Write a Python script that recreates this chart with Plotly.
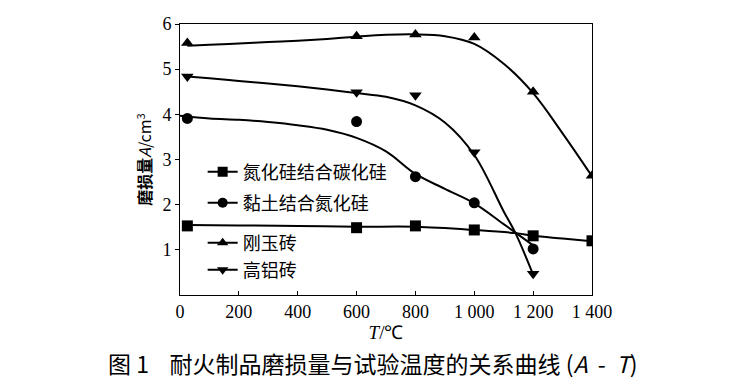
import plotly.graph_objects as go

# ---- data ----
x_ticks = [0, 200, 400, 600, 800, 1000, 1200, 1400]
x_ticktext = ["0", "200", "400", "600", "800", "1 000", "1 200", "1 400"]
y_ticks = [1, 2, 3, 4, 5, 6]

names = ["氮化硅结合碳化硅", "黏土结合氮化硅", "刚玉砖", "高铝砖"]

# measured points
sq_x = [25, 600, 800, 1000, 1200, 1400]
sq_y = [1.53, 1.49, 1.53, 1.44, 1.31, 1.20]
ci_x = [25, 600, 800, 1000, 1200]
ci_y = [3.91, 3.84, 2.62, 2.04, 1.02]
tu_x = [25, 600, 800, 1000, 1200, 1400]
tu_y = [5.58, 5.73, 5.77, 5.70, 4.50, 2.64]
td_x = [25, 600, 800, 1000, 1200]
td_y = [4.84, 4.49, 4.42, 3.16, 0.47]

# fitted curves
sq_fx = [25, 200, 400, 600, 800, 1000, 1140, 1200, 1300, 1400]
sq_fy = [1.55, 1.54, 1.53, 1.51, 1.51, 1.44, 1.37, 1.31, 1.25, 1.19]
ci_fx = [0, 100, 200, 300, 400, 500, 600, 700, 800, 900, 1000, 1100, 1200]
ci_fy = [3.97, 3.91, 3.88, 3.83, 3.76, 3.66, 3.48, 3.18, 2.68, 2.35, 2.03, 1.57, 1.10]
tu_fx = [25, 100, 200, 300, 400, 500, 600, 700, 800, 900, 1000, 1100, 1200, 1300, 1400]
tu_fy = [5.52, 5.54, 5.57, 5.60, 5.63, 5.67, 5.72, 5.76, 5.77, 5.73, 5.56, 5.12, 4.47, 3.58, 2.63]
td_fx = [25, 100, 200, 300, 400, 500, 600, 700, 800, 900, 1000, 1100, 1140, 1200]
td_fy = [4.84, 4.80, 4.74, 4.68, 4.62, 4.55, 4.47, 4.39, 4.20, 3.82, 3.10, 1.85, 1.37, 0.45]

symbols = ["square", "circle", "triangle-up", "triangle-down"]
pts = [(sq_x, sq_y), (ci_x, ci_y), (tu_x, tu_y), (td_x, td_y)]
fits = [(sq_fx, sq_fy), (ci_fx, ci_fy), (tu_fx, tu_fy), (td_fx, td_fy)]
legend_ids = ["legend", "legend2", "legend3", "legend4"]
legend_y = [0.454, 0.339, 0.192, 0.092]

SERIF = "Liberation Serif"
CJK = "Noto Sans CJK SC"

fig = go.Figure()
for (fx, fy) in fits:
    fig.add_trace(go.Scatter(x=fx, y=fy, mode="lines", line=dict(color="black", width=2,
                             shape="spline", smoothing=1.0), showlegend=False, hoverinfo="skip"))
for (px, py), sym in zip(pts, symbols):
    fig.add_trace(go.Scatter(x=px, y=py, mode="markers",
                             marker=dict(symbol=sym, size=11, color="black"), showlegend=False))
for name, sym, lid in zip(names, symbols, legend_ids):
    fig.add_trace(go.Scatter(x=[None], y=[None], mode="lines+markers", name=name, legend=lid,
                             line=dict(color="black", width=2),
                             marker=dict(symbol=sym, size=10, color="black")))

fig.update_xaxes(range=[0, 1400], tickvals=x_ticks, ticktext=x_ticktext,
                 showline=True, linecolor="black", linewidth=1, mirror=True,
                 showgrid=False, zeroline=False, ticks="inside", ticklen=4, tickcolor="black",
                 tickfont=dict(family=SERIF, size=18, color="black"), automargin=False,
                 title=dict(text="<i>T</i>/℃", font=dict(family=SERIF, size=19, color="black"), standoff=2))
fig.update_yaxes(range=[0, 6], tickvals=y_ticks,
                 showline=True, linecolor="black", linewidth=1, mirror=True,
                 showgrid=False, zeroline=False, ticks="outside", ticklen=4, tickcolor="black",
                 tickfont=dict(family=SERIF, size=18, color="black"), automargin=False,
                 title=dict(text="<b>磨损量</b><i>A</i>/cm<sup>3</sup>",
                            font=dict(family=CJK, size=16, color="black"), standoff=6))

fig.add_annotation(text="图&nbsp;1&nbsp;&nbsp;&nbsp;&nbsp;耐火制品磨损量与试验温度的关系曲线&nbsp;(<i>A</i>&nbsp;&nbsp;-&nbsp;&nbsp;<i>T</i>)",
                   xref="paper", yref="paper", x=0.468, y=-0.251, xanchor="center", yanchor="middle",
                   showarrow=False, font=dict(family=CJK, size=23, color="black"))

legend_style = dict(x=0.055, xanchor="left", yanchor="middle", bgcolor="rgba(0,0,0,0)",
                    font=dict(family=CJK, size=18, color="black"), itemwidth=30)
layout_legends = {lid: dict(y=ly, **legend_style) for lid, ly in zip(legend_ids, legend_y)}

fig.update_layout(
    width=726, height=376,
    margin=dict(l=172, r=142, t=16, b=89, autoexpand=False),
    paper_bgcolor="white", plot_bgcolor="white",
    showlegend=True,
    **layout_legends,
)

fig.write_html("out.html")
